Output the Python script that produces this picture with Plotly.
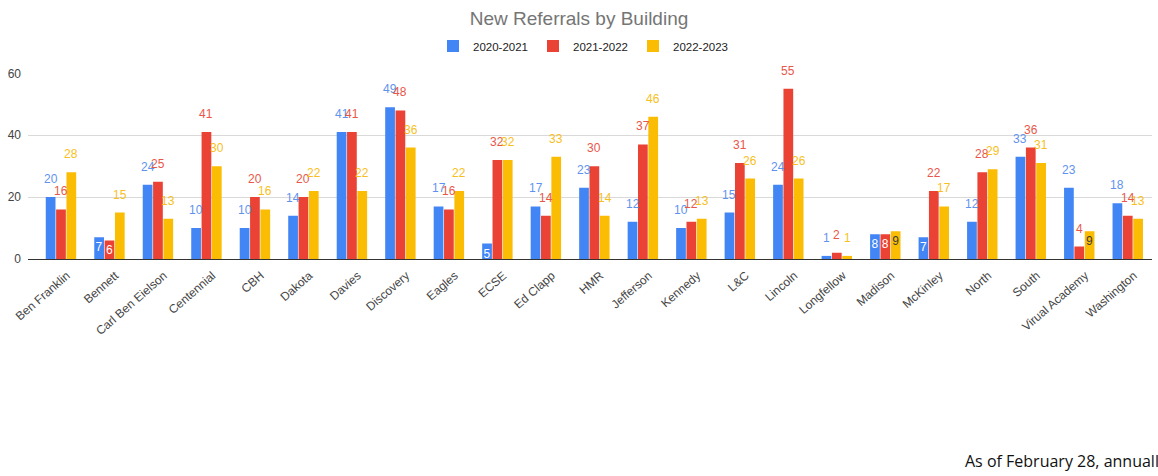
import plotly.graph_objects as go

# Buildings and yearly counts of new referrals
buildings = ["Ben Franklin", "Bennett", "Carl Ben Eielson", "Centennial", "CBH", "Dakota",
             "Davies", "Discovery", "Eagles", "ECSE", "Ed Clapp", "HMR", "Jefferson",
             "Kennedy", "L&C", "Lincoln", "Longfellow", "Madison", "McKinley", "North",
             "South", "Virual Academy", "Washington"]
y2020_2021 = [20, 7, 24, 10, 10, 14, 41, 49, 17, 5, 17, 23, 12, 10, 15, 24, 1, 8, 7, 12, 33, 23, 18]
y2021_2022 = [16, 6, 25, 41, 20, 20, 41, 48, 16, 32, 14, 30, 37, 12, 31, 55, 2, 8, 22, 28, 36, 4, 14]
y2022_2023 = [28, 15, 13, 30, 16, 22, 22, 36, 22, 32, 33, 14, 46, 13, 26, 26, 1, 9, 17, 29, 31, 9, 13]
series_names = ["2020-2021", "2021-2022", "2022-2023"]

# Labels drawn inside their bars rather than above them
inside_labels = {
    "2020-2021": {"Bennett", "ECSE", "Madison", "McKinley"},
    "2021-2022": {"Bennett", "Madison"},
    "2022-2023": {"Madison", "Virual Academy"},
}

colors = ["#4285F4", "#EA4335", "#FBBC04"]
label_colors = ["#5f93ee", "#e8574a", "#f7bf22"]
inside_colors = ["#ffffff", "#ffffff", "#3c3c3c"]
label_font = "Liberation Sans, Arial, sans-serif"

W, H = 1158, 476
M_L, M_R, M_T, M_B = 28, 6, 70, 217
X_RANGE = [-0.68, 22.5]
BARGAP, GROUPGAP = 0.36, 0.06
plot_w = W - M_L - M_R

fig = go.Figure()
for name, vals, col, icol in zip(series_names, [y2020_2021, y2021_2022, y2022_2023], colors, inside_colors):
    txt = [str(v) if b in inside_labels[name] else "" for b, v in zip(buildings, vals)]
    fig.add_trace(go.Bar(
        name=name, x=buildings, y=vals, marker=dict(color=col, line=dict(width=0)),
        text=txt, textposition="inside", insidetextanchor="end", constraintext="none",
        textfont=dict(color=icol, size=12, family=label_font),
        hoverinfo="x+y+name",
    ))

# Value labels above the bars, offset to each bar's slot within its group
cat_px = plot_w / (X_RANGE[1] - X_RANGE[0])
slot_px = cat_px * (1 - BARGAP) / 3
for i, (name, vals, lcol) in enumerate(zip(series_names, [y2020_2021, y2021_2022, y2022_2023], label_colors)):
    for b, v in zip(buildings, vals):
        if b in inside_labels[name]:
            continue
        fig.add_annotation(
            x=b, y=v, xref="x", yref="y", text=str(v), showarrow=False,
            xshift=(i - 1) * slot_px, yshift=18, yanchor="middle", xanchor="center",
            font=dict(size=12, color=lcol, family=label_font),
        )

fig.update_layout(
    width=W, height=H,
    margin=dict(l=M_L, r=M_R, t=M_T, b=M_B),
    paper_bgcolor="white", plot_bgcolor="white",
    barmode="group", bargap=BARGAP, bargroupgap=GROUPGAP,
    title=dict(text="New Referrals by Building", x=0.5, xanchor="center",
               y=1 - 18 / H, yanchor="middle",
               font=dict(size=19, color="#757575", family=label_font)),
    legend=dict(orientation="h", x=0.5 - 7 / plot_w, xanchor="center", y=1 - 46 / H, yref="container",
                yanchor="middle", font=dict(size=11.5, color="#222222", family=label_font),
                itemwidth=30, traceorder="normal"),
    showlegend=True,
    font=dict(family=label_font),
)
fig.update_xaxes(
    range=X_RANGE, tickangle=-41, showgrid=False, ticks="",
    showline=True, linecolor="#333333", linewidth=1,
    ticklabelshift=6, ticklabelstandoff=4,
    tickfont=dict(size=12, color="#444444", family=label_font),
)
fig.update_yaxes(
    range=[0, 60], tickvals=[0, 20, 40, 60], showgrid=True, gridcolor="#d9d9d9",
    zeroline=False, ticks="", ticklabelstandoff=6,
    tickfont=dict(size=12, color="#444444", family=label_font),
)

fig.add_annotation(
    text="As of February 28, annually", xref="paper", yref="paper",
    x=(963 - M_L) / plot_w, xanchor="left",
    y=-(465 - (H - M_B)) / (H - M_T - M_B), yanchor="middle",
    showarrow=False, font=dict(size=16, color="#111111", family="Open Sans, sans-serif"),
)

fig.write_html("out.html")
